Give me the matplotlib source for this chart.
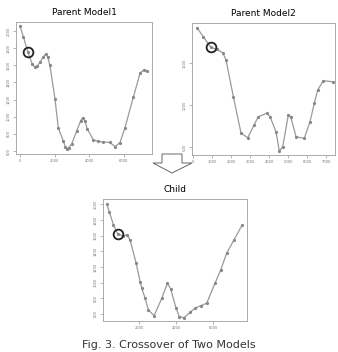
import numpy as np
import matplotlib
matplotlib.use("Agg")
import matplotlib.pyplot as plt
from matplotlib.patches import Polygon

# ---------- data ----------
p1_x = [0, 200, 460, 700, 870, 1000, 1150, 1350, 1480, 1600, 1730, 2020, 2215,
        2500, 2620, 2700, 2820, 2990, 3280, 3500, 3620, 3750, 3890, 4240, 4500,
        4820, 5200, 5490, 5780, 6070, 6550, 6940, 7170, 7360]
p1_y = [2059, 1930, 1753, 1620, 1576, 1590, 1635, 1700, 1730, 1700, 1600, 1212, 870,
        718, 650, 625, 640, 682, 835, 950, 988, 950, 859, 729, 712,
        706, 700, 650, 698, 874, 1227, 1510, 1549, 1533]
p1_hi = (460, 1753)

p2_x = [240, 555, 940, 1257, 1570, 1743, 2126, 2530, 2880, 3210, 3435, 3874, 4047,
        4361, 4534, 4712, 5005, 5130, 5408, 5843, 6141, 6367, 6544, 6838, 7330]
p2_y = [1913, 1813, 1687, 1663, 1623, 1536, 1099, 663, 611, 762, 861, 901, 861,
        682, 452, 504, 881, 861, 623, 603, 801, 1020, 1179, 1289, 1277]
p2_hi = (940, 1687)

ch_x = [238, 378, 595, 832, 1103, 1351, 1497, 1822, 2038, 2130, 2308, 2486, 2795,
        3211, 3514, 3697, 3984, 4162, 4416, 4740, 5011, 5319, 5643, 6092, 6400,
        6724, 7119, 7568]
ch_y = [2003, 1900, 1738, 1619, 1601, 1610, 1546, 1248, 1013, 928, 800, 651, 578,
        800, 992, 919, 673, 565, 553, 621, 673, 706, 737, 992, 1162, 1376, 1546, 1738]
ch_hi = (832, 1619)

p1_xticks = [0, 2000, 4000, 6000]
p2_xticks = [0, 1000, 2000, 3000, 4000, 5000, 6000, 7000]
ch_xticks = [2000, 4000, 6000]
p1_yticks = [600, 800, 1000, 1200, 1400, 1600, 1800, 2000]
p2_yticks = [500, 1000, 1500]
ch_yticks = [600, 800, 1000, 1200, 1400, 1600, 1800, 2000]

titles = ["Parent Model1", "Parent Model2", "Child"]
caption = "Fig. 3. Crossover of Two Models"

W, H = 338, 352
fig = plt.figure(figsize=(W / 100, H / 100), dpi=100)

def panel(rect, x, y, hi, xt, yt, xlim, ylim, title):
    ax = fig.add_axes(rect)
    ax.plot(x, y, '-', color='#9a9a9a', lw=0.9, marker='o', ms=1.3,
            mfc='#888888', mec='#888888')
    ax.plot([hi[0]], [hi[1]], 'o', ms=7, mfc='none', mec='#222222', mew=1.3)
    ax.set_xlim(xlim)
    ax.set_ylim(ylim)
    ax.set_xticks(xt)
    ax.set_yticks(yt)
    ax.set_xticklabels([str(v) for v in xt], fontsize=2.6, color='#777777')
    ax.set_yticklabels([str(v) for v in yt], fontsize=2.6, color='#777777',
                       rotation=90, va='center')
    ax.tick_params(length=2, width=0.5, color='#999999', pad=1.5)
    for s in ax.spines.values():
        s.set_color('#aaaaaa')
        s.set_linewidth(0.7)
    ax.set_title(title, fontsize=6.5, pad=5,
                 family=['Liberation Sans Narrow', 'DejaVu Sans'])
    return ax

panel([16 / W, 1 - 154 / H, 136 / W, 132 / H], p1_x, p1_y, p1_hi,
      p1_xticks, p1_yticks, (-230, 7630), (565, 2106), titles[0])
panel([192 / W, 1 - 155 / H, 143 / W, 132 / H], p2_x, p2_y, p2_hi,
      p2_xticks, p2_yticks, (-40, 7450), (405, 1976), titles[1])
panel([102.5 / W, 1 - 321 / H, 144 / W, 122 / H], ch_x, ch_y, ch_hi,
      ch_xticks, ch_yticks, (0, 7800), (510, 2070), titles[2])

# hollow down arrow between the parents
arrow_px = [(162, 154), (182, 154), (182, 163), (192, 163), (172, 173),
            (153, 163), (162, 163)]
arrow = Polygon([(px / W, 1 - py / H) for px, py in arrow_px], closed=True,
                transform=fig.transFigure, fill=False, ec='#666666', lw=0.7)
fig.patches.append(arrow)

fig.text(0.5, 1 - 345 / H, caption, ha='center', va='center', fontsize=8,
         color='#333333')

fig.savefig("out.png", dpi=100)
